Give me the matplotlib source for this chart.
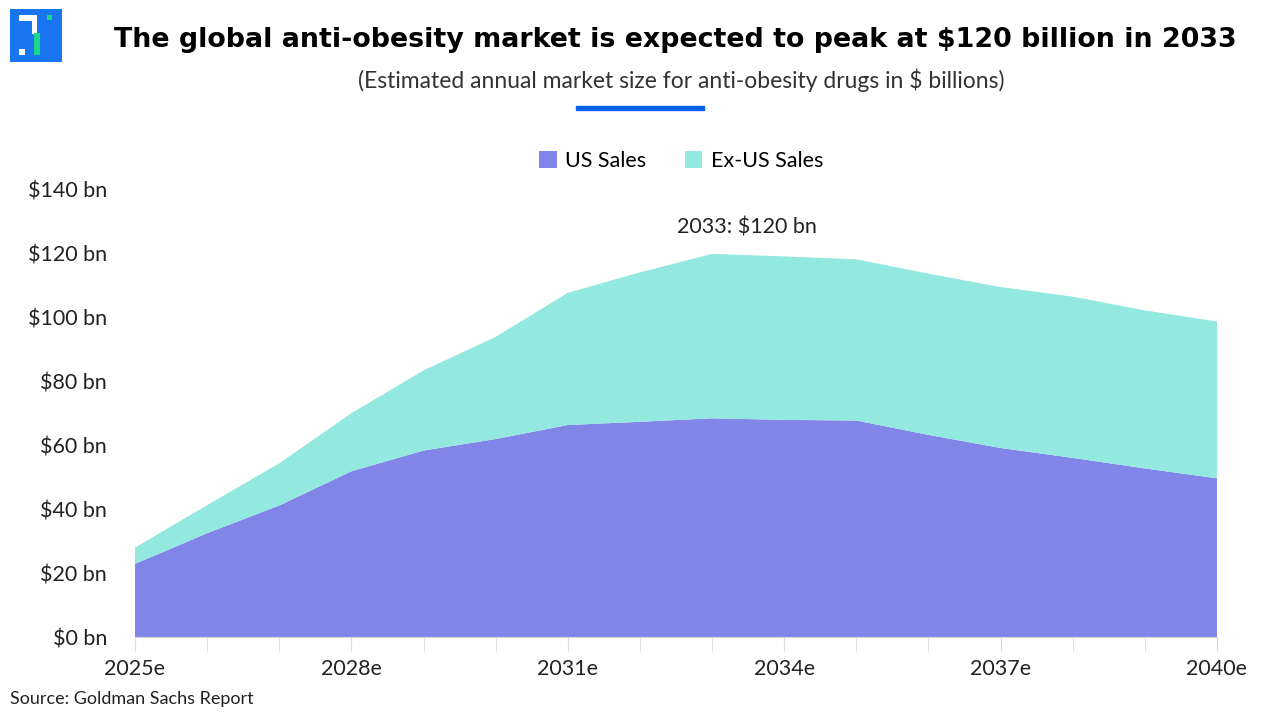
import matplotlib.pyplot as plt
from matplotlib.patches import Rectangle

years = list(range(2025, 2041))
us_sales = [22.9, 32.5, 41.2, 51.9, 58.4, 62.0, 66.4, 67.4, 68.5, 68.0, 67.8, 63.3, 59.2, 56.1, 52.8, 49.7]
total = [28.0, 41.3, 54.4, 70.1, 83.5, 94.0, 107.8, 114.2, 120.0, 119.2, 118.3, 113.8, 109.6, 106.6, 102.3, 98.8]
ex_us_sales = [t - u for t, u in zip(total, us_sales)]
tick_years = [2025, 2028, 2031, 2034, 2037, 2040]
tick_labels = [f"{y}e" for y in tick_years]
y_ticks = [0, 20, 40, 60, 80, 100, 120, 140]

c_us = '#8185e8'
c_ex = '#93e8e0'
plt.rcParams['font.family'] = ['Lato', 'DejaVu Sans']

fig = plt.figure(figsize=[12.8, 7.2], dpi=100)
ax = fig.add_axes([135 / 1280, 83 / 720, 1082 / 1280, 447 / 720])

ax.stackplot(years, us_sales, ex_us_sales, colors=[c_us, c_ex],
             labels=['US Sales', 'Ex-US Sales'], linewidth=0)

ax.set_xlim(2025, 2040)
ax.set_ylim(0, 140)
ax.set_yticks(y_ticks)
ax.set_yticklabels([f"${v} bn" for v in y_ticks], fontsize=15.5, color='#222222')
ax.set_xticks(years, minor=True)
ax.set_xticks(tick_years)
ax.set_xticklabels(tick_labels, fontsize=15.5, color='#222222')
ax.tick_params(axis='y', length=0, pad=20)
ax.tick_params(axis='x', which='both', length=10, color='#d9d9d9', pad=6)
for s in ['top', 'right', 'left']:
    ax.spines[s].set_visible(False)
ax.spines['bottom'].set_color('#d9d9d9')

ax.annotate('2033: $120 bn', (2033, 120), xytext=(25, 12), textcoords='offset points',
            ha='center', va='bottom', fontsize=15.5, color='#222222')

ax.legend(loc='center', bbox_to_anchor=(0.505, 1 + 29 / 447), ncol=2, frameon=False,
          fontsize=15.5, handlelength=0.8, handleheight=0.8, columnspacing=1.8,
          handletextpad=0.4)

fig.text(675 / 1280, 1 - 40 / 720,
         'The global anti-obesity market is expected to peak at $120 billion in 2033',
         ha='center', va='center', fontsize=19.4, fontweight='bold', color='black',
         family=['DejaVu Sans'])
fig.text(681 / 1280, 1 - 80 / 720,
         '(Estimated annual market size for anti-obesity drugs in $ billions)',
         ha='center', va='center', fontsize=16.5, color='#333333')
fig.add_artist(Rectangle((576 / 1280, 1 - 110 / 720), 128 / 1280, 4 / 720,
                         transform=fig.transFigure, color='#0a63e6'))

# logo
def box(x0, y0, x1, y1, color):
    fig.add_artist(Rectangle((x0 / 1280, 1 - y1 / 720), (x1 - x0) / 1280, (y1 - y0) / 720,
                             transform=fig.transFigure, color=color, lw=0))

box(10, 9, 62, 62, '#1a75f0')
box(19, 15, 37, 21, 'white')
box(32, 15, 37, 34, 'white')
box(19, 49, 25, 55, 'white')
box(34, 33, 40, 55, '#1ed689')
box(47, 15, 52, 20, '#1ed689')

fig.text(10 / 1280, 1 - 699 / 720, 'Source: Goldman Sachs Report', ha='left', va='center',
         fontsize=13, color='#222222')

plt.savefig('out.png')
